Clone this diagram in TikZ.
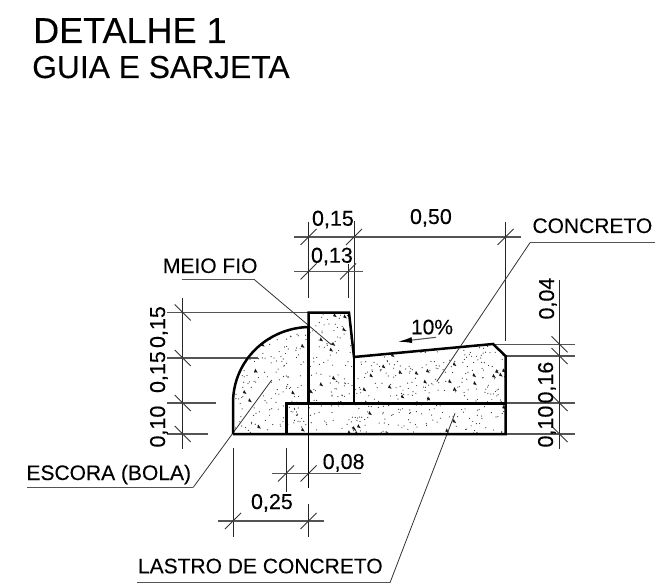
\documentclass[tikz,border=0pt]{standalone}
\usepackage{fontspec}
\setmainfont{Liberation Sans}[FakeBold=0.15]
\usetikzlibrary{arrows.meta}
\definecolor{dimc}{gray}{0.33}
\tikzset{
  outline/.style={line width=2.5pt,black,line join=miter},
  dimline/.style={line width=1.2pt,dimc},
  extline/.style={line width=0.8pt,black!85},
  tickline/.style={line width=0.9pt,black!80},
  leader/.style={line width=0.8pt,black!80},
  shelf/.style={line width=1.5pt,dimc},
  lab/.style={anchor=base west,inner sep=0pt,outer sep=0pt,font=\fontsize{21}{21}\selectfont},
  numlab/.style={lab,font=\fontsize{21.5}{21.5}\selectfont},
  vlab/.style={numlab,rotate=90},
}
\begin{document}
\begin{tikzpicture}[x=1pt,y=-1pt]
\useasboundingbox (0,0) rectangle (669,585);
% outline vertices
\coordinate (A) at (233,434);
\coordinate (Aup) at (233,403);
\coordinate (B) at (308.5,327);
\coordinate (C) at (308.5,312.5);
\coordinate (D) at (349,312.5);
\coordinate (E) at (354,357);
\coordinate (F) at (493,344);
\coordinate (G) at (505.5,356);
\coordinate (H) at (505.5,434);
\coordinate (I) at (286.5,434);
\coordinate (J) at (286.5,403.5);
\coordinate (K) at (505.5,403.5);
\coordinate (L) at (308.5,403.5);
\coordinate (M) at (354,403.5);
% stipple
\begin{scope}
\clip (A) -- (Aup) .. controls (233,360) and (268,328) .. (B) -- (C) -- (D) -- (E) -- (F) -- (G) -- (H) -- cycle;
\pgfmathsetseed{4217}
\foreach \i in {1,...,700}{
  \pgfmathsetmacro{\px}{233+rnd*272}
  \pgfmathsetmacro{\py}{312+rnd*122}
  \fill[black!80] (\px,\py) circle (0.6pt);
}
\foreach \i in {1,...,80}{
  \pgfmathsetmacro{\px}{233+rnd*272}
  \pgfmathsetmacro{\py}{312+rnd*122}
  \fill[black!90] (\px,\py) -- ++(3.6,1) -- ++(-2.4,-4) -- cycle;
}
\end{scope}
% extension lines
\coordinate (e1a) at (308.5,222); \coordinate (e1b) at (308.5,298);
\coordinate (e2a) at (354,221);   \coordinate (e2b) at (354,357);
\coordinate (e3a) at (505.5,222); \coordinate (e3b) at (505.5,341);
\coordinate (e4a) at (348,264);   \coordinate (e4b) at (348,298);
\foreach \a/\b in {e1a/e1b,e2a/e2b,e3a/e3b,e4a/e4b}{\draw[extline] (\a) -- (\b);}
% top dimension lines
\coordinate (d1a) at (294,237);   \coordinate (d1b) at (520.5,237);
\coordinate (d2a) at (294,271.5); \coordinate (d2b) at (363,271.5);
\draw[dimline] (d1a) -- (d1b);
\draw[dimline] (d2a) -- (d2b);
\foreach \x/\y in {308.5/237,354/237,505.5/237,308.5/271.5,348/271.5}{
  \draw[tickline] (\x,\y) +(-8,8) -- +(8,-8);}
% left vertical dimension
\coordinate (lv1) at (182.7,298); \coordinate (lv2) at (182.7,448.5);
\draw[extline] (lv1) -- (lv2);
\foreach \y/\e in {312.5/308,358/258,403/216,434/208}{
  \draw[dimline] (167,\y) -- (\e,\y);
  \draw[tickline] (182.7,\y) +(-8,-8) -- +(8,8);}
% right vertical dimension
\coordinate (rv1) at (559.5,280); \coordinate (rv2) at (559.5,448.5);
\draw[extline] (rv1) -- (rv2);
\foreach \y/\s in {344.3/493,356/505.5,403/505.5,434/505.5}{
  \draw[dimline] (\s,\y) -- (575,\y);
  \draw[tickline] (559.5,\y) +(-8,-8) -- +(8,8);}
% bottom dimensions
\coordinate (b1a) at (286,448); \coordinate (b1b) at (286,492);
\coordinate (b2a) at (308.5,404); \coordinate (b2b) at (308.5,488);
\coordinate (b3a) at (233,448); \coordinate (b3b) at (233,537);
\coordinate (b4a) at (308.5,504); \coordinate (b4b) at (308.5,537);
\draw[extline] (b1a) -- (b1b);
\draw[line width=1.1pt] (b2a) -- (b2b);
\draw[extline] (b3a) -- (b3b);
\draw[extline] (b4a) -- (b4b);
\coordinate (d3a) at (271.5,473.5); \coordinate (d3b) at (361,473.5);
\coordinate (d4a) at (218,521); \coordinate (d4b) at (324,521);
\draw[dimline] (d3a) -- (d3b);
\draw[dimline] (d4a) -- (d4b);
\foreach \x/\y in {286/473.5,308.5/473.5,233/521,308.5/521}{
  \draw[tickline] (\x,\y) +(-8,8) -- +(8,-8);}
% leaders
\coordinate (m0) at (181.7,279.3); \coordinate (m1) at (254,279.3); \coordinate (m2) at (331.7,345);
\draw[shelf] (m0) -- (m1); \draw[leader] (m1) -- (m2);
\coordinate (c0) at (655,242.7); \coordinate (c1) at (530,242.7); \coordinate (c2) at (436.7,381.7);
\draw[shelf] (c0) -- (c1); \draw[leader] (c1) -- (c2);
\coordinate (s0) at (27.3,487.3); \coordinate (s1) at (193.3,487.3); \coordinate (s2) at (271.7,380);
\draw[shelf] (s0) -- (s1); \draw[leader] (s1) -- (s2);
\coordinate (t0) at (137.3,582.7); \coordinate (t1) at (390,582.7); \coordinate (t2) at (455,413.3);
\draw[shelf] (t0) -- (t1); \draw[leader] (t1) -- (t2);
% slope arrow
\coordinate (p0) at (436,337.3); \coordinate (p1) at (398,341.7);
\draw[line width=1.1pt,dimc,-{Latex[length=14pt,width=6pt,black]}] (p0) -- (p1);
% outlines
\draw[outline] (A) -- (Aup) .. controls (233,360) and (268,328) .. (B);
\draw[outline] (B) -- (C) -- (D) -- (E) -- (F) -- (G) -- (H) -- (A);
\draw[outline] (B) -- (L);
\draw[outline] (I) -- (J) -- (K);
\draw[outline] (E) -- (M);
% texts
\node[anchor=base west,inner sep=0pt,font=\fontsize{36}{36}\selectfont] (title) at (33,43) {DETALHE 1};
\node[anchor=base west,inner sep=0pt,font=\fontsize{31.8}{31.8}\selectfont] (subtitle) at (32,78) {GUIA E SARJETA};
\node[lab] (meio) at (163,273) {MEIO FIO};
\node[lab] (conc) at (532.5,233) {CONCRETO};
\node[lab] (esc) at (26.5,480) {ESCORA (BOLA)};
\node[lab] (las) at (138,573.3) {LASTRO DE CONCRETO};
\node[numlab] (v15) at (312,225.7) {0,15};
\node[numlab] (v13) at (311,262.7) {0,13};
\node[numlab] (v50) at (410,224) {0,50};
\node[lab] (v10p) at (411,334.3) {10\%};
\node[numlab] (v08) at (322.7,469) {0,08};
\node[numlab] (v25) at (251,509) {0,25};
\node[vlab] (l15a) at (165,348) {0,15};
\node[vlab] (l15b) at (165,393) {0,15};
\node[vlab] (l10) at (165,447.5) {0,10};
\node[vlab] (r04) at (554,319.5) {0,04};
\node[vlab] (r16) at (553,403.5) {0,16};
\node[vlab] (r10) at (553,447.5) {0,10};
\end{tikzpicture}
\end{document}
